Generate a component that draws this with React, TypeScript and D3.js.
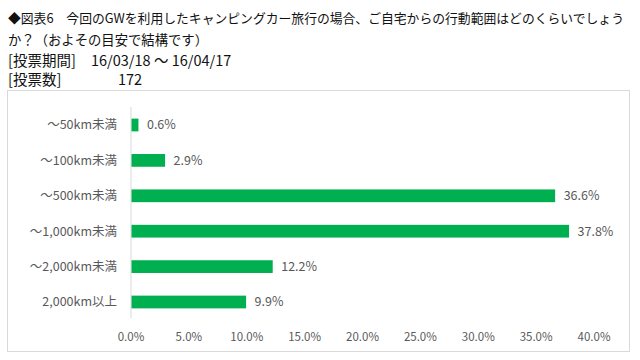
import React from "react";
import * as d3 from "d3";

const categories = ["～50km未満", "～100km未満", "～500km未満", "～1,000km未満", "～2,000km未満", "2,000km以上"];
const values = [0.6, 2.9, 36.6, 37.8, 12.2, 9.9];
const tickValues = [0, 5, 10, 15, 20, 25, 30, 35, 40];
const titleLines = [
  "◆図表6　今回のGWを利用したキャンピングカー旅行の場合、ご自宅からの行動範囲はどのくらいでしょう",
  "か？（およその目安で結構です）",
];
const periodLabel = "[投票期間]";
const periodValue = "16/03/18 ～ 16/04/17";
const countLabel = "[投票数]";
const countValue = "172";

const W = 640;
const H = 360;
const FONT = "'Noto Sans CJK JP', 'Noto Sans', sans-serif";

export default function App() {
  const x = d3.scaleLinear().domain([0, 40]).range([131, 594]);
  const y = d3.scaleBand<string>().domain(categories).range([108, 319]).paddingInner(0.64).paddingOuter(0.3);
  const grey = "#595959";
  return (
    <div style={{ position: "fixed", left: 0, top: 0, width: W, height: H, background: "#fff" }}>
      <svg width={W} height={H} style={{ display: "block" }} fontFamily={FONT}>
        <rect x={0} y={0} width={W} height={H} fill="#fff" />
        <text x={8} y={23} fontSize={12.8} fill="#111" textLength={616} lengthAdjust="spacingAndGlyphs">
          {titleLines[0]}
        </text>
        <text x={8} y={45} fontSize={13.5} fill="#111" textLength={200} lengthAdjust="spacingAndGlyphs">
          {titleLines[1]}
        </text>
        <text x={8} y={66} fontSize={14.5} fill="#111">{periodLabel}</text>
        <text x={91} y={66} fontSize={14.5} fill="#111">{periodValue}</text>
        <text x={8} y={85} fontSize={14.5} fill="#111">{countLabel}</text>
        <text x={118} y={85} fontSize={14.5} fill="#111">{countValue}</text>
        <rect x={7.5} y={90.5} width={622} height={261} fill="#fff" stroke="#d9d9d9" strokeWidth={1} />
        <line x1={x(0)} x2={x(0)} y1={107} y2={318} stroke="#d9d9d9" strokeWidth={1} />
        {categories.map((c, i) => {
          const yy = y(c)!;
          const bw = y.bandwidth();
          return (
            <g key={c}>
              <rect x={x(0) + 0.5} y={yy} width={x(values[i]) - x(0)} height={bw} fill="#00B050" />
              <text x={117} y={yy + bw / 2} dy="0.35em" textAnchor="end" fontSize={12.5} fill={grey}>
                {c}
              </text>
              <text x={x(values[i]) + 9} y={yy + bw / 2} dy="0.35em" fontSize={12.5} fill={grey}>
                {values[i].toFixed(1) + "%"}
              </text>
            </g>
          );
        })}
        {tickValues.map((t) => (
          <text key={t} x={x(t)} y={337} dy="0.35em" textAnchor="middle" fontSize={11.5} fill={grey}>
            {t.toFixed(1) + "%"}
          </text>
        ))}
      </svg>
    </div>
  );
}
